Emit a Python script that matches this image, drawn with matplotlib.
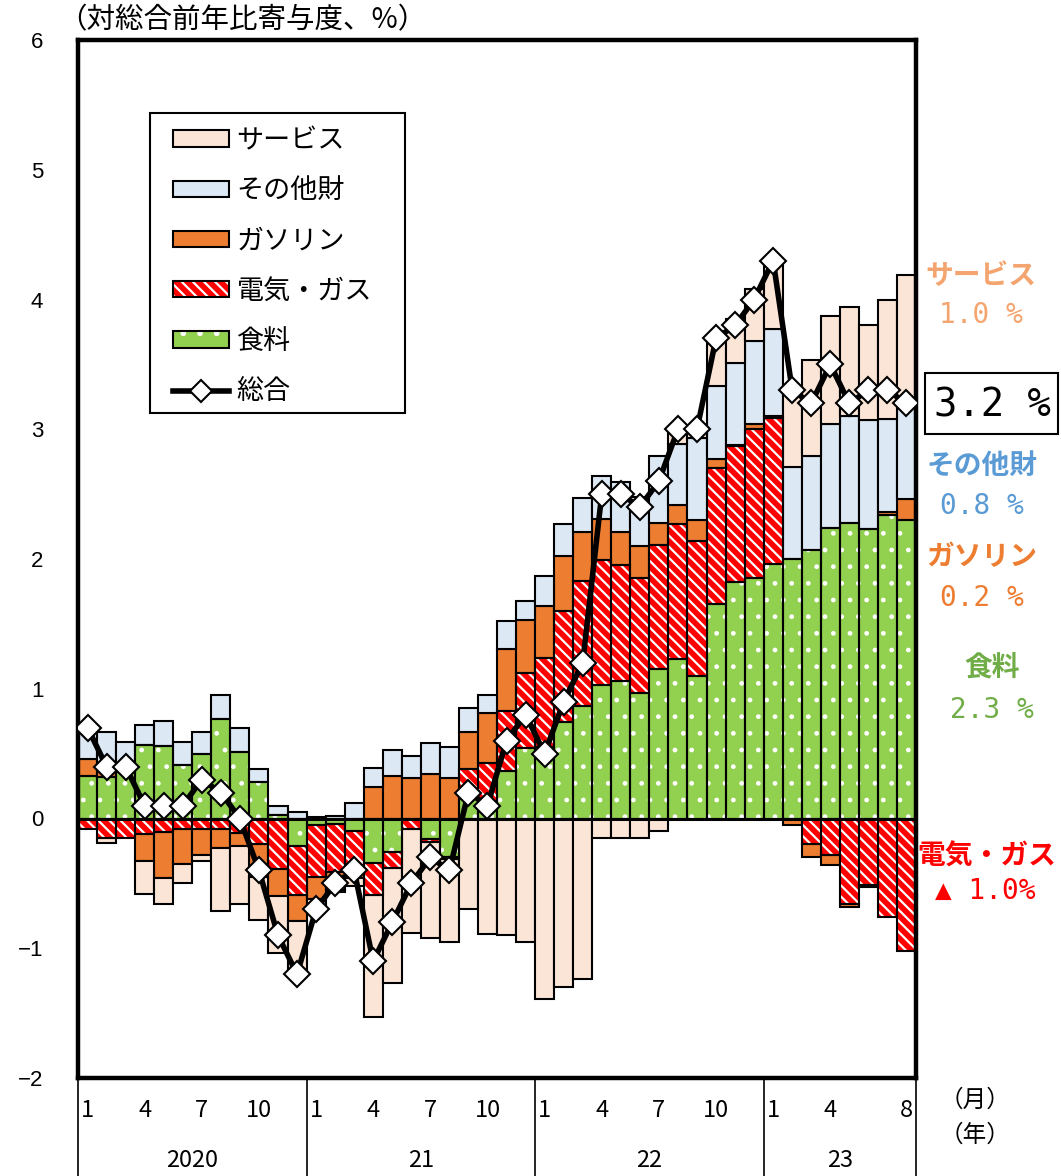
import numpy as np
import matplotlib
matplotlib.use("Agg")
import matplotlib.pyplot as plt
import matplotlib.patches as mpatches
from matplotlib.lines import Line2D
from matplotlib.legend_handler import HandlerTuple
import matplotlib.transforms as mtransforms

plt.rcParams['font.family'] = ['Noto Sans CJK JP', 'DejaVu Sans']
plt.rcParams['hatch.linewidth'] = 1.6

# ---- data (Jan 2020 - Aug 2023), contributions in % points ----
food = [0.33, 0.32, 0.36, 0.565, 0.56, 0.41, 0.50, 0.77, 0.51, 0.28, 0.03, -0.21,
        -0.05, -0.04, -0.10, -0.34, -0.26, 0.0, -0.16, -0.30, 0.17, 0.10, 0.365, 0.545,
        0.55, 0.74, 0.87, 1.03, 1.06, 0.97, 1.15, 1.23, 1.10, 1.65, 1.82, 1.855,
        1.96, 2.00, 2.07, 2.24, 2.28, 2.23, 2.34, 2.30]
elec = [-0.08, -0.15, -0.15, -0.12, -0.105, -0.08, -0.08, -0.08, -0.11, -0.20, -0.39, -0.38,
        -0.40, -0.37, -0.28, -0.25, -0.12, -0.08, -0.02, -0.01, 0.21, 0.33, 0.465, 0.575,
        0.69, 0.86, 0.96, 0.96, 0.89, 0.88, 0.96, 1.04, 1.04, 1.05, 1.05, 1.145,
        1.13, 0.0, -0.20, -0.285, -0.66, -0.51, -0.76, -1.02]
gasoline = [0.13, 0.06, 0.0, -0.21, -0.355, -0.27, -0.20, -0.15, -0.10, -0.25, -0.21, -0.20,
            -0.17, -0.14, -0.08, 0.24, 0.33, 0.31, 0.34, 0.31, 0.29, 0.38, 0.48, 0.41,
            0.40, 0.42, 0.38, 0.32, 0.26, 0.25, 0.17, 0.15, 0.16, 0.07, 0.01, 0.04,
            0.01, -0.05, -0.10, -0.075, -0.02, -0.02, 0.02, 0.16]
other_goods = [0.23, 0.29, 0.23, 0.155, 0.19, 0.18, 0.17, 0.185, 0.19, 0.10, 0.07, 0.05,
               0.01, 0.02, 0.12, 0.15, 0.20, 0.17, 0.24, 0.24, 0.18, 0.145, 0.21, 0.145,
               0.23, 0.25, 0.26, 0.33, 0.38, 0.38, 0.51, 0.47, 0.63, 0.56, 0.63, 0.64,
               0.67, 0.71, 0.72, 0.80, 0.82, 0.84, 0.72, 0.74]
services = [0.0, -0.04, 0.0, -0.25, -0.20, -0.15, -0.05, -0.48, -0.45, -0.33, -0.44, -0.38,
            -0.06, -0.02, -0.06, -0.94, -0.89, -0.80, -0.74, -0.64, -0.70, -0.89, -0.90, -0.95,
            -1.39, -1.30, -1.24, -0.15, -0.15, -0.15, -0.10, 0.08, 0.08, 0.39, 0.34, 0.40,
            0.52, 0.57, 0.74, 0.83, 0.84, 0.73, 0.92, 0.99]
total = [0.7, 0.4, 0.4, 0.1, 0.1, 0.1, 0.3, 0.2, 0.0, -0.4, -0.9, -1.2,
         -0.7, -0.5, -0.4, -1.1, -0.8, -0.5, -0.3, -0.4, 0.2, 0.1, 0.6, 0.8,
         0.5, 0.9, 1.2, 2.5, 2.5, 2.4, 2.6, 3.0, 3.0, 3.7, 3.8, 4.0,
         4.3, 3.3, 3.2, 3.5, 3.2, 3.3, 3.3, 3.2]

month_ticks = [1, 4, 7, 10, 1, 4, 7, 10, 1, 4, 7, 10, 1, 4, 8]
month_tick_pos = [0, 3, 6, 9, 12, 15, 18, 21, 24, 27, 30, 33, 36, 39, 43]
year_labels = ['2020', '21', '22', '23']
year_label_pos = [5.5, 17.5, 29.5, 39.5]
year_bounds = [-0.5, 11.5, 23.5, 35.5, 43.5]

series_names = ['食料', '電気・ガス', 'ガソリン', 'その他財', 'サービス']
series_vals = [food, elec, gasoline, other_goods, services]
colors = {'食料': '#92D050', '電気・ガス': '#FF0000', 'ガソリン': '#ED7D31',
          'その他財': '#DDE8F5', 'サービス': '#FBE5D6'}
hatches = {'食料': '.', '電気・ガス': '\\\\\\', 'ガソリン': None, 'その他財': None, 'サービス': None}
hatch_lw = {'食料': 1.0, '電気・ガス': 1.6}

W, H = 1061, 1176
fig = plt.figure(figsize=(W / 100, H / 100), dpi=100)
ax = fig.add_axes([78 / W, 98 / H, 838 / W, 1038 / H])

x = np.arange(len(total))
pos_base = np.zeros(len(x))
neg_base = np.zeros(len(x))
for name, vals in zip(series_names, series_vals):
    v = np.array(vals, dtype=float)
    bottom = np.where(v >= 0, pos_base, neg_base)
    mask = v != 0
    h = hatches[name]
    if h:
        with plt.rc_context({'hatch.linewidth': hatch_lw[name]}):
            ax.bar(x[mask], v[mask], bottom=bottom[mask], width=1.0, color=colors[name],
                   edgecolor='white', hatch=h, linewidth=0, zorder=2)
        ax.bar(x[mask], v[mask], bottom=bottom[mask], width=1.0, fill=False,
               edgecolor='black', linewidth=1.5, zorder=2.1)
    else:
        ax.bar(x[mask], v[mask], bottom=bottom[mask], width=1.0, color=colors[name],
               edgecolor='black', linewidth=1.5, zorder=2)
    pos_base = pos_base + np.where(v > 0, v, 0)
    neg_base = neg_base + np.where(v < 0, v, 0)

ax.axhline(0, color='black', linewidth=2.2, zorder=3)
ax.plot(x, total, color='black', linewidth=4, marker='D', markersize=13,
        markerfacecolor='white', markeredgecolor='black', markeredgewidth=1.5, zorder=5)

ax.set_xlim(-0.5, 43.5)
ax.set_ylim(-2, 6)
ax.set_yticks(range(-2, 7))
ax.set_yticklabels([str(v).replace('-', '\u2212') for v in range(-2, 7)],
                   fontsize=16, family=['Liberation Sans', 'DejaVu Sans'])
ax.tick_params(axis='y', length=0, pad=25)
ax.set_xticks([])
for sp in ax.spines.values():
    sp.set_linewidth(3.2)

trans = mtransforms.blended_transform_factory(ax.transData, ax.transAxes)
for p, m in zip(month_tick_pos, month_ticks):
    ax.text(p, -0.031, str(m), transform=trans, ha='center', va='center', fontsize=17)
for p, yl in zip(year_label_pos, year_labels):
    ax.text(p, -0.079, yl, transform=trans, ha='center', va='center', fontsize=17)
for b in year_bounds:
    ax.plot([b, b], [0, -0.095], transform=trans, color='black', linewidth=1.2, clip_on=False)

fig.text(975 / W, 1 - 1100 / H, '（月）', ha='center', va='center', fontsize=17)
fig.text(975 / W, 1 - 1135 / H, '（年）', ha='center', va='center', fontsize=17)
fig.text(58 / W, 1 - 20 / H, '（対総合前年比寄与度、%）', ha='left', va='center', fontsize=20.5)

# legend
def patch_handle(name):
    if hatches[name]:
        with plt.rc_context({'hatch.linewidth': hatch_lw[name]}):
            p1 = mpatches.Patch(facecolor=colors[name], edgecolor='white', hatch=hatches[name], linewidth=0)
        return (p1, mpatches.Patch(fill=False, edgecolor='black', linewidth=1.5))
    return mpatches.Patch(facecolor=colors[name], edgecolor='black', linewidth=1.5)

leg_order = ['サービス', 'その他財', 'ガソリン', '電気・ガス', '食料']
handles = [patch_handle(n) for n in leg_order]
handles.append(Line2D([0], [0], color='black', linewidth=4, marker='D', markersize=11,
                      markerfacecolor='white', markeredgecolor='black', markeredgewidth=1.5))
labels = leg_order + ['総合']
leg = ax.legend(handles, labels, loc='upper left', bbox_to_anchor=(173 / W, 1 - 127 / H),
                bbox_transform=fig.transFigure,
                fontsize=19.5, frameon=False, handlelength=2.05, handleheight=0.55,
                handletextpad=0.3, labelspacing=0.86, borderpad=0, borderaxespad=0,
                handler_map={tuple: HandlerTuple(ndivide=1)})
leg.set_zorder(10)
legbox = mpatches.Rectangle((150 / W, 1 - 413 / H), 255 / W, 300 / H, transform=fig.transFigure,
                            facecolor='white', edgecolor='black', linewidth=1.5, zorder=9,
                            clip_on=False)
ax.add_artist(legbox)

# right annotations
mono = ['DejaVu Sans Mono', 'Noto Sans CJK JP']
def ftext(px, py, s, color, size, fam=None, weight='bold'):
    fig.text(px / W, 1 - py / H, s, ha='center', va='center', color=color,
             fontsize=size, weight=weight, family=fam if fam else ['Noto Sans CJK JP', 'DejaVu Sans'])

ftext(981, 276, 'サービス', '#F4A46E', 20)
ftext(981, 315, '1.0 %', '#F4A46E', 20, mono, 'normal')
fig.add_artist(mpatches.Rectangle((925 / W, 1 - 434 / H), 133 / W, 61 / H, transform=fig.transFigure,
                                  fill=False, edgecolor='black', linewidth=1.5))
ftext(992, 405, '3.2 %', 'black', 28, mono, 'normal')
ftext(982, 466, 'その他財', '#5B9BD5', 20)
ftext(982, 506, '0.8 %', '#5B9BD5', 20, mono, 'normal')
ftext(982, 557, 'ガソリン', '#ED7D31', 20)
ftext(982, 598, '0.2 %', '#ED7D31', 20, mono, 'normal')
ftext(992, 668, '食料', '#70AD47', 20)
ftext(992, 710, '2.3 %', '#70AD47', 20, mono, 'normal')
ftext(987, 857, '電気・ガス', '#FF0000', 20)
ftext(985, 891, '▲ 1.0%', '#FF0000', 20, mono, 'normal')

fig.savefig('out.png', dpi=100)
